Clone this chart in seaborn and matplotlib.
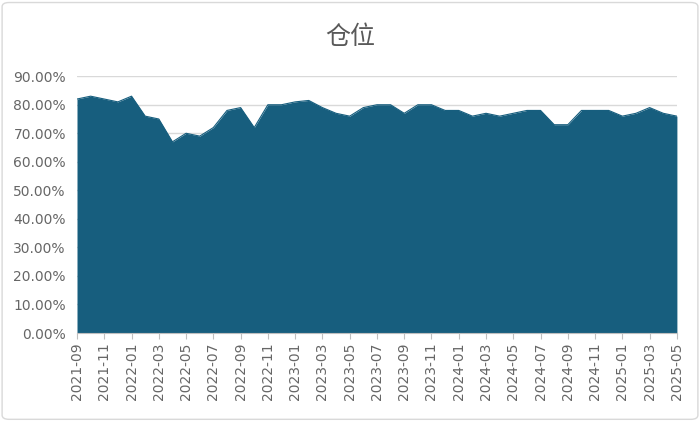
import numpy as np
import pandas as pd
import seaborn as sns
import matplotlib.pyplot as plt
from matplotlib.patches import FancyBboxPatch
from matplotlib.ticker import PercentFormatter

months = pd.date_range('2021-09-01', '2025-05-01', freq='MS').strftime('%Y-%m').tolist()
position = [82, 83, 82, 81, 83, 76, 75, 67, 70, 69,
            72, 78, 79, 72, 80, 80, 81, 81.5, 79, 77,
            76, 79, 80, 80, 77, 80, 80, 78, 78, 76,
            77, 76, 77, 78, 78, 73, 73, 78, 78, 78,
            76, 77, 79, 77, 76]

df = pd.DataFrame({'month': months, 'position': position})
df['idx'] = range(len(df))

sns.set_style('white')
plt.rcParams['font.family'] = ['Noto Sans CJK SC', 'DejaVu Sans']

fig = plt.figure(figsize=(7, 4.21), dpi=100)
ax = fig.add_axes([0.11, 0.209, 0.857, 0.61])

color = '#175E7E'
ax.fill_between(df['idx'], df['position'], 0, color=color, linewidth=0, zorder=2)
sns.lineplot(data=df, x='idx', y='position', color=color, linewidth=0.8, ax=ax, zorder=3)

ax.set_xlim(0, len(df) - 1)
ax.set_ylim(0, 90)
ax.set_yticks(np.arange(0, 91, 10))
ax.yaxis.set_major_formatter(PercentFormatter(decimals=2))
ax.set_xticks(df['idx'][::2])
ax.set_xticklabels(df['month'][::2], rotation=90)
ax.set_xlabel('')
ax.set_ylabel('')

ax.grid(axis='y', color='#D9D9D9', linewidth=1, zorder=0)
for s in ['top', 'right', 'left']:
    ax.spines[s].set_visible(False)
ax.spines['bottom'].set_color('#BFBFBF')
ax.tick_params(axis='x', colors='#666666', labelsize=10, length=4, width=0.8,
               direction='out', bottom=True, pad=3)
ax.tick_params(axis='x', color='#BFBFBF')
ax.tick_params(axis='y', colors='#666666', labelsize=10, length=0, pad=8)
for lab in ax.get_xticklabels() + ax.get_yticklabels():
    lab.set_family(['DejaVu Sans'])

fig.text(0.5, 0.913, '仓位', ha='center', va='center', fontsize=18, color='#595959')

border = FancyBboxPatch((0.003, 0.004), 0.994, 0.99, boxstyle='round,pad=0,rounding_size=0.01',
                        transform=fig.transFigure, fill=False, edgecolor='#D9D9D9', linewidth=1)
fig.patches.append(border)

fig.savefig('out.png', dpi=100)
